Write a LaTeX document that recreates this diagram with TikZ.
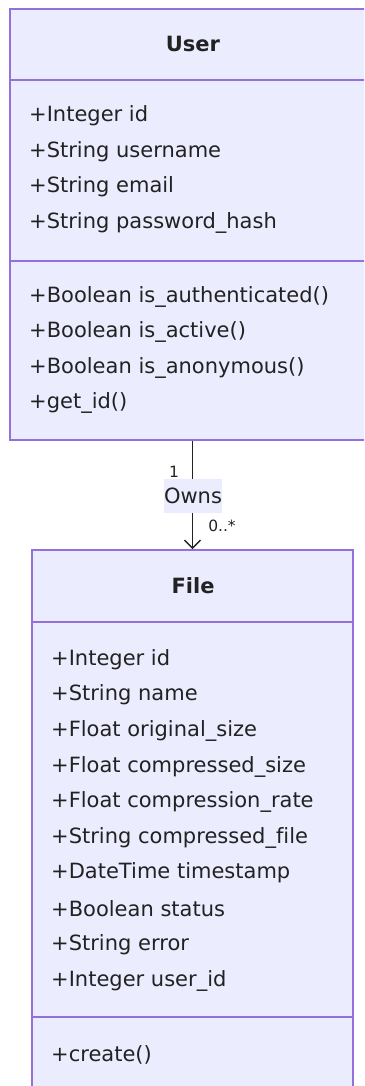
\documentclass[tikz,border=0pt]{standalone}
\usepackage{fontspec}
\setmainfont{DejaVu Sans}[Ligatures={NoCommon}]
\usetikzlibrary{arrows.meta}
\definecolor{boxfill}{HTML}{ECECFF}
\definecolor{boxline}{HTML}{9370DB}
\definecolor{ink}{HTML}{222222}
\begin{document}
\begin{tikzpicture}[x=1pt,y=-1pt,
  classbox/.style={draw=boxline,fill=boxfill,line width=1.8pt,inner sep=0pt},
  sepline/.style={draw=boxline,line width=1.8pt},
  member/.style={anchor=west,inner sep=0pt,text=ink,font=\fontsize{21}{25}\selectfont},
  title/.style={inner sep=0pt,text=ink,font=\bfseries\fontsize{21}{25}\selectfont},
  card/.style={inner sep=0pt,text=ink,font=\fontsize{15.5}{18}\selectfont},
  rel/.style={draw=ink,line width=1.4pt,-{Straight Barb[length=8pt,width=16pt,line width=1.4pt]}}]
\useasboundingbox (0,0) rectangle (364,1086);
\begin{scope}
\clip (0,0) rectangle (364,1086);
% User class
\node[classbox,minimum width=356pt,minimum height=431pt] (user) at (188,224.5) {};
\node[title] (usertitle) at (193,44) {User};
\draw[sepline] (10,80) -- (366,80);
\draw[sepline] (10,261) -- (366,261);
\node[member] (u1) at (29,116) {+Integer id};
\node[member] (u2) at (29,152) {+String username};
\node[member] (u3) at (29,187) {+String email};
\node[member] (u4) at (29,223) {+String password\_hash};
\node[member] (u5) at (29,297) {+Boolean is\_authenticated()};
\node[member] (u6) at (29,332) {+Boolean is\_active()};
\node[member] (u7) at (29,368) {+Boolean is\_anonymous()};
\node[member] (u8) at (29,403) {+get\_id()};
% File class
\node[classbox,minimum width=321pt,minimum height=544pt] (file) at (192.5,822) {};
\node[title] (filetitle) at (193,586) {File};
\draw[sepline] (32,622) -- (353,622);
\draw[sepline] (32,1017) -- (353,1017);
\node[member] (f1) at (51,660) {+Integer id};
\node[member] (f2) at (51,695) {+String name};
\node[member] (f3) at (51,731) {+Float original\_size};
\node[member] (f4) at (51,767) {+Float compressed\_size};
\node[member] (f5) at (51,802) {+Float compression\_rate};
\node[member] (f6) at (51,838) {+String compressed\_file};
\node[member] (f7) at (51,873) {+DateTime timestamp};
\node[member] (f8) at (51,909) {+Boolean status};
\node[member] (f9) at (51,945) {+String error};
\node[member] (f10) at (51,981) {+Integer user\_id};
\node[member] (f11) at (51,1055) {+create()};
% relation
\draw[rel] (user.south -| file.north) -- (file.north);
\node[fill=boxfill,minimum width=56pt,minimum height=34pt,inner sep=0pt,text=ink,font=\fontsize{21}{25}\selectfont] (owns) at (193,496) {Owns};
\node[card] (c1) at (174,472) {1};
\node[card] (c2) at (222,526) {0..*};
\end{scope}
\end{tikzpicture}
\end{document}
